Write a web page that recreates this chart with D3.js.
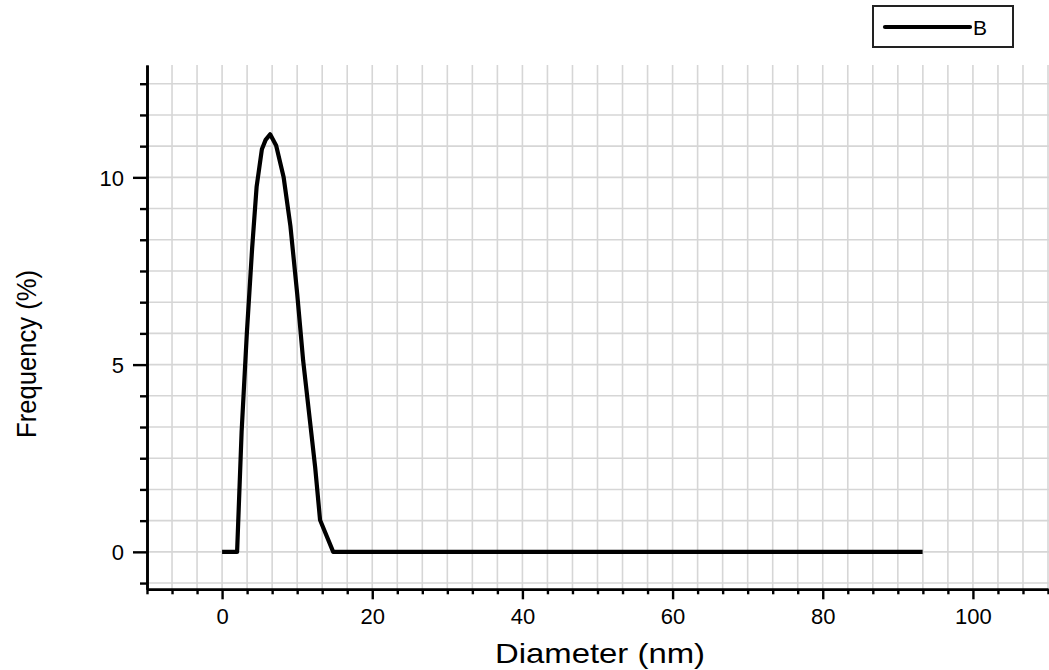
<!DOCTYPE html>
<html>
<head>
<meta charset="utf-8">
<script src="https://cdn.jsdelivr.net/npm/d3@7/dist/d3.min.js"></script>
<style>
  html, body { margin: 0; padding: 0; background: #fff; }
  svg { display: block; font-family: "Liberation Sans", Arial, sans-serif; }
</style>
</head>
<body>
<svg id="chart" width="1049" height="670"></svg>
<script>
// Particle size distribution, series B
const diameter  = [0, 2.0, 2.6, 3.3, 4.0, 4.6, 5.3, 5.8, 6.4, 7.2, 8.2, 9.1, 10.0, 10.8, 11.7, 12.4, 13.05, 14.8, 93.3];
const frequency = [0, 0,   3.2, 5.85, 8.1, 9.75, 10.75, 11.0, 11.15, 10.85, 10.0, 8.7, 6.9, 5.1, 3.5, 2.25, 0.85, 0, 0];

const xMajorTicks = [0, 20, 40, 60, 80, 100];
const xTickLabels = ["0", "20", "40", "60", "80", "100"];
const yMajorTicks = [0, 5, 10];
const yTickLabels = ["0", "5", "10"];
const seriesName = "B";
const xTitle = "Diameter (nm)";
const yTitle = "Frequency (%)";

const svg = d3.select("#chart");

const x = d3.scaleLinear().domain([-10, 110]).range([147, 1048]);
const y = d3.scaleLinear().domain([-1, 13]).range([589.3, 65]);

// minor steps: 6 per major interval
const xStep = 20 / 6, yStep = 5 / 6;
const xMinor = d3.range(-3, 34).map(i => i * xStep).filter(v => v <= 110.001);
const yMinor = d3.range(-1, 16).map(i => i * yStep).filter(v => v <= 13);

// grid
const grid = svg.append("g").attr("stroke", "#d6d6d6").attr("stroke-width", 1.6);
grid.selectAll("line.v").data(xMinor.filter(v => v > -10)).join("line")
  .attr("x1", d => x(d)).attr("x2", d => x(d))
  .attr("y1", y(13)).attr("y2", y(-1));
grid.selectAll("line.h").data(yMinor.filter(v => v > -1)).join("line")
  .attr("x1", x(-10)).attr("x2", 1049)
  .attr("y1", d => y(d)).attr("y2", d => y(d));

// data line
const line = d3.line().x((d, i) => x(diameter[i])).y(d => y(d));
svg.append("path")
  .datum(frequency)
  .attr("d", line)
  .attr("fill", "none")
  .attr("stroke", "#000")
  .attr("stroke-width", 4.2)
  .attr("stroke-linejoin", "round");

// x axis
const xAxisMinor = d3.axisBottom(x)
  .tickValues(xMinor.filter(v => !xMajorTicks.some(m => Math.abs(m - v) < 1e-6)))
  .tickSize(5).tickFormat("").tickSizeOuter(0);
const xAxisMajor = d3.axisBottom(x)
  .tickValues(xMajorTicks).tickSize(10).tickSizeOuter(0)
  .tickFormat((d, i) => xTickLabels[i]);
const gxMinor = svg.append("g").attr("transform", `translate(0,${y(-1)})`).call(xAxisMinor);
const gx = svg.append("g").attr("transform", `translate(0,${y(-1)})`).call(xAxisMajor);

// y axis
const yAxisMinor = d3.axisLeft(y)
  .tickValues(yMinor.filter(v => !yMajorTicks.some(m => Math.abs(m - v) < 1e-6)))
  .tickSize(7).tickFormat("").tickSizeOuter(0);
const yAxisMajor = d3.axisLeft(y)
  .tickValues(yMajorTicks).tickSize(14).tickSizeOuter(0)
  .tickFormat((d, i) => yTickLabels[i]);
const gyMinor = svg.append("g").attr("transform", `translate(${x(-10)},0)`).call(yAxisMinor);
const gy = svg.append("g").attr("transform", `translate(${x(-10)},0)`).call(yAxisMajor);

[gx, gxMinor, gy, gyMinor].forEach(g => {
  g.selectAll("path.domain").attr("stroke", "#000").attr("stroke-width", 2.6);
  g.selectAll(".tick line").attr("stroke", "#000").attr("stroke-width", 2.4);
  g.selectAll("text").attr("fill", "#000").attr("font-size", 22)
    .attr("font-family", "Liberation Sans, Arial, sans-serif");
});
gx.selectAll("text").attr("dy", null).attr("y", 35);
gy.selectAll("text").attr("x", -23).attr("dy", "0.36em");

// axis titles
svg.append("text")
  .attr("x", 600).attr("y", 663)
  .attr("text-anchor", "middle")
  .attr("font-size", 28)
  .attr("textLength", 210).attr("lengthAdjust", "spacingAndGlyphs")
  .attr("fill", "#000")
  .text(xTitle);

svg.append("text")
  .attr("transform", `translate(36,354) rotate(-90)`)
  .attr("text-anchor", "middle")
  .attr("font-size", 28)
  .attr("textLength", 168).attr("lengthAdjust", "spacingAndGlyphs")
  .attr("fill", "#000")
  .text(yTitle);

// legend
const lg = svg.append("g");
lg.append("rect")
  .attr("x", 873).attr("y", 6).attr("width", 140).attr("height", 41)
  .attr("fill", "#fff").attr("stroke", "#222").attr("stroke-width", 2);
lg.append("line")
  .attr("x1", 885).attr("x2", 970).attr("y1", 27).attr("y2", 27)
  .attr("stroke", "#000").attr("stroke-width", 4.2).attr("stroke-linecap", "round");
lg.append("text")
  .attr("x", 973).attr("y", 35)
  .attr("font-size", 21).attr("fill", "#000")
  .text(seriesName);
</script>
</body>
</html>
